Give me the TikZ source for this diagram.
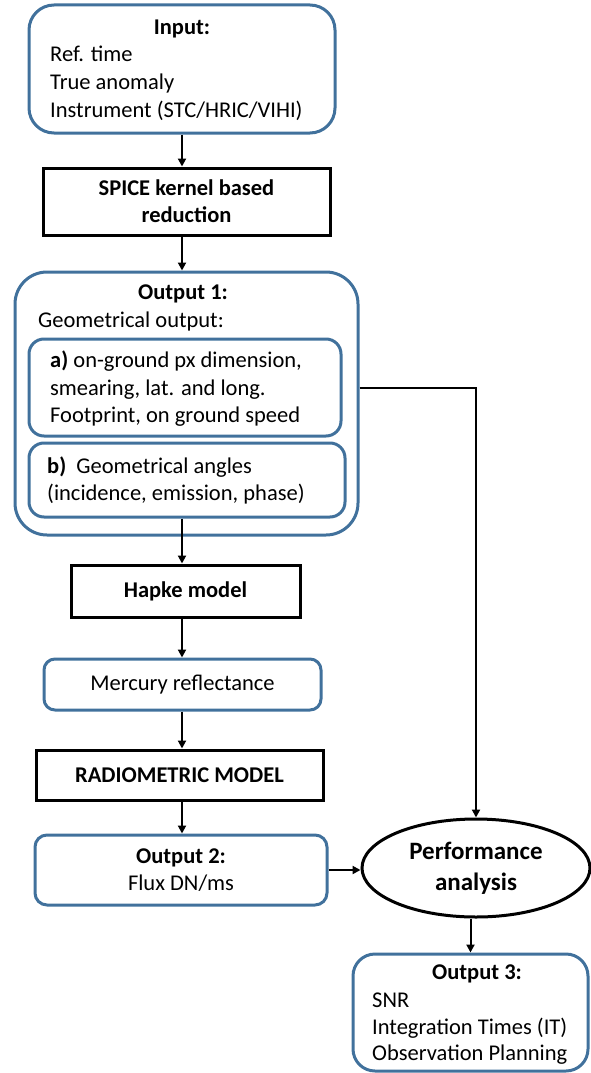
\documentclass[tikz,border=0pt]{standalone}
\usepackage{fontspec}
\setmainfont{Carlito}
\usetikzlibrary{arrows.meta,shapes.geometric,calc}
\definecolor{boxblue}{RGB}{65,113,156}
\newcommand\mainsize{\fontsize{22.5}{27}\selectfont}
\newcommand\perfsize{\fontsize{25}{31}\selectfont}
\begin{document}
\begin{tikzpicture}[x=1pt,y=-1pt,
  bluebox/.style={draw=boxblue, line width=3pt, rounded corners=#1, inner sep=0pt, align=center, font=\mainsize},
  blackbox/.style={draw=black, line width=3pt, inner sep=0pt, align=center, font=\bfseries\mainsize},
  txt/.style={anchor=base west, inner sep=0pt, font=\mainsize},
  ttl/.style={anchor=base, inner sep=0pt, font=\bfseries\mainsize},
  conn/.style={line width=2pt, line join=miter, -{Triangle[length=8pt,width=8pt]}}]
\useasboundingbox (0,0) rectangle (590,1073);
% Input
\node[bluebox=25pt, minimum width=306pt, minimum height=128pt] (inp) at (182,69) {};
\node[ttl] (inpt) at (182,35) {Input:};
\node[txt] (inp1) at (50,62) {Ref. time};
\node[txt] (inp2) at (50,89) {True anomaly};
\node[txt] (inp3) at (50,117) {Instrument (STC/HRIC/VIHI)};
% SPICE
\node[blackbox, minimum width=287pt, minimum height=67pt] (spice) at (186.5,201.5) {SPICE kernel based\\reduction};
% Output 1
\node[bluebox=32pt, minimum width=343pt, minimum height=263pt] (out1) at (186.5,403.5) {};
\node[ttl] (out1t) at (183,299) {Output 1:};
\node[txt] (out1g) at (38,327) {Geometrical output:};
\node[bluebox=15pt, minimum width=312pt, minimum height=97pt] (a) at (185,387.5) {};
\node[txt] (a1) at (50,367) {\textbf{a)} on-ground px dimension,};
\node[txt] (a2) at (50,395) {smearing, lat. and long.};
\node[txt] (a3) at (50,422) {Footprint, on ground speed};
\node[bluebox=15pt, minimum width=316pt, minimum height=74pt] (b) at (187,480) {};
\node[txt] (b1) at (47,473) {\textbf{b)}\ \ Geometrical angles};
\node[txt] (b2) at (47,500) {(incidence, emission, phase)};
% chain
\node[blackbox, minimum width=229pt, minimum height=52pt] (hapke) at (185.5,591) {Hapke model};
\node[bluebox=11pt, minimum width=277pt, minimum height=51pt] (merc) at (182.5,684.5) {Mercury reflectance};
\node[blackbox, minimum width=287pt, minimum height=50pt] (radio) at (179.5,775) {RADIOMETRIC MODEL};
\node[bluebox=12pt, minimum width=292pt, minimum height=70pt] (out2) at (181,870) {\textbf{Output 2:}\\Flux DN/ms};
% Performance
\node[ellipse, draw=black, line width=3pt, inner sep=0pt, minimum width=228pt, minimum height=98pt, align=center, font=\bfseries\perfsize] (perf) at (476,868) {Performance\\analysis};
% Output 3
\node[bluebox=22pt, minimum width=235pt, minimum height=117pt] (out3) at (470.5,1012.5) {};
\node[ttl] (out3t) at (477,979) {Output 3:};
\node[txt] (o31) at (372,1007) {SNR};
\node[txt] (o32) at (372,1034) {Integration Times (IT)};
\node[txt] (o33) at (372,1060) {Observation Planning};
% connectors
\draw[conn] (inp.south) -- (inp.south |- spice.north);
\draw[conn] (inp.south |- spice.south) -- (inp.south |- out1.north);
\draw[conn] (inp.south |- b.south) -- (inp.south |- hapke.north);
\draw[conn] (inp.south |- hapke.south) -- (inp.south |- merc.north);
\draw[conn] (inp.south |- merc.south) -- (inp.south |- radio.north);
\draw[conn] (inp.south |- radio.south) -- (inp.south |- out2.north);
\draw[conn] (out2.east) -- (out2.east -| perf.west);
\draw[conn] (out1.east |- a.east) -- (a.east -| perf.north) -- (perf.north);
\draw[conn] (out3.north |- perf.south) -- (out3.north);
\end{tikzpicture}
\end{document}
